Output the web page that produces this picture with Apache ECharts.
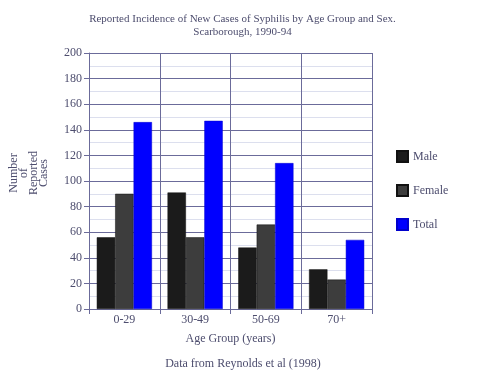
<!DOCTYPE html>
<html><head><meta charset="utf-8">
<script src="https://cdn.jsdelivr.net/npm/echarts@6/dist/echarts.min.js"></script>
<style>html,body{margin:0;padding:0;background:#fff}#c{width:485px;height:376px}</style>
</head><body><div id="c"></div>
<script>
var categories = ['0-29', '30-49', '50-69', '70+'];
var male = [56, 91, 48, 31];
var female = [90, 56, 66, 23];
var total = [146, 147, 114, 54];
var seriesNames = ['Male', 'Female', 'Total'];

var txt = '#4d4d6e';
var axisCol = '#6b6b9a';
var font = '"Liberation Serif", "DejaVu Serif", serif';
var chart = echarts.init(document.getElementById('c'));
chart.setOption({
  animation: false,
  textStyle: {fontFamily: font, color: txt},
  title: {
    text: 'Reported Incidence of New Cases of Syphilis by Age Group and Sex.\nScarborough, 1990-94',
    left: 'center', top: 8,
    textStyle: {fontFamily: font, fontSize: 11, fontWeight: 'normal', color: txt, lineHeight: 13}
  },
  legend: {
    orient: 'vertical', left: 396, top: 150, padding: 0,
    icon: 'rect', itemWidth: 11, itemHeight: 11, itemGap: 21,
    textStyle: {fontFamily: font, fontSize: 12, color: txt},
    data: seriesNames
  },
  grid: {left: 89, right: 113, top: 53, bottom: 67},
  xAxis: {
    type: 'category', data: categories,
    name: 'Age Group (years)', nameLocation: 'middle', nameGap: 24,
    nameTextStyle: {fontFamily: font, fontSize: 12, color: txt},
    axisLine: {lineStyle: {color: axisCol}},
    axisTick: {show: true, length: 5, lineStyle: {color: axisCol}},
    axisLabel: {fontFamily: font, fontSize: 12, color: txt, margin: 5},
    splitLine: {show: true, lineStyle: {color: axisCol, width: 1}}
  },
  yAxis: {
    type: 'value', min: 0, max: 200, interval: 20,
    axisLine: {show: true, lineStyle: {color: axisCol}},
    axisTick: {show: true, length: 5, lineStyle: {color: axisCol}},
    axisLabel: {fontFamily: font, fontSize: 12, color: txt, margin: 7},
    splitLine: {show: true, lineStyle: {color: axisCol, width: 1}},
    minorTick: {show: false, splitNumber: 2},
    minorSplitLine: {show: true, lineStyle: {color: '#dcdfee', width: 1}}
  },
  graphic: [
    {type: 'text', x: 29, y: 173, rotation: Math.PI / 2,
     style: {text: 'Number\nof\nReported\nCases', fontFamily: font, fontSize: 12, lineHeight: 10,
             fill: txt, align: 'center', verticalAlign: 'middle'}},
    {type: 'text', x: 243, y: 364,
     style: {text: 'Data from Reynolds et al (1998)', fontFamily: font, fontSize: 12,
             fill: txt, align: 'center', verticalAlign: 'middle'}}
  ],
  series: [
    {name: 'Male', type: 'bar', data: male, barGap: '0%', barCategoryGap: '22%',
     itemStyle: {color: '#1b1b1b', borderColor: '#111', borderWidth: 0.5}},
    {name: 'Female', type: 'bar', data: female,
     itemStyle: {color: '#3d3d3d', borderColor: '#111', borderWidth: 0.5}},
    {name: 'Total', type: 'bar', data: total,
     itemStyle: {color: '#0000ff', borderColor: '#0000cc', borderWidth: 0.5}}
  ]
});
</script></body></html>
